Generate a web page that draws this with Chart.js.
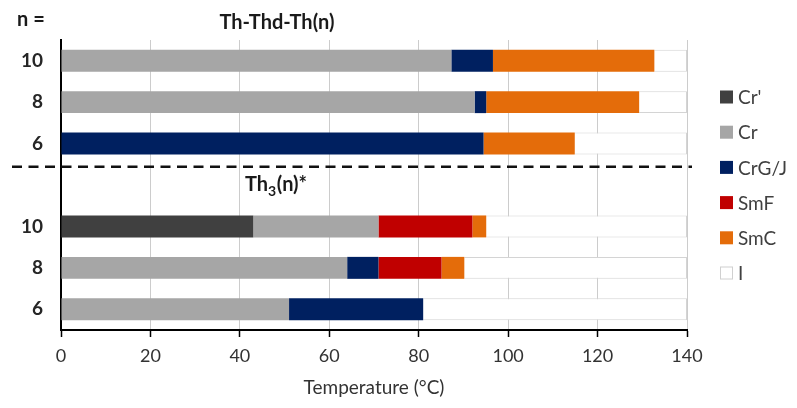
<!DOCTYPE html>
<html>
<head>
<meta charset="utf-8">
<script src="https://cdn.jsdelivr.net/npm/chart.js@4.4.1/dist/chart.umd.min.js"></script>
<style>
  html, body { margin: 0; padding: 0; background: #ffffff; }
  #wrap { width: 797px; height: 408px; }
</style>
</head>
<body>
<div id="wrap"><canvas id="c" width="797" height="408"></canvas></div>
<script>
// ---- data (segment lengths in °C, stacked from 0) ----
const categories = ['10', '8', '6', '', '10', '8', '6'];
const seriesNames = ["Cr'", 'Cr', 'CrG/J', 'SmF', 'SmC', 'I'];
const crPrime = [0, 0, 0, null, 43.0, 0, 0];
const cr      = [87.3, 92.5, 0, null, 28.0, 64.0, 51.0];
const crgj    = [9.3, 2.6, 94.5, null, 0, 7.0, 30.0];
const smf     = [0, 0, 0, null, 21.0, 14.1, 0];
const smc     = [36.1, 34.2, 20.4, null, 3.1, 5.1, 0];
const iso     = [7.3, 10.7, 25.1, null, 44.9, 49.8, 59.0];
const xTickValues = [0, 20, 40, 60, 80, 100, 120, 140];
const xTitle = 'Temperature (°C)';
const topTitle = 'Th-Thd-Th(n)';
const nLabel = 'n =';

const colors = ['#404040', '#a6a6a6', '#002060', '#c00000', '#e46c0a', '#ffffff'];
const seriesData = [crPrime, cr, crgj, smf, smc, iso];
const FONT = 'Lato, "Open Sans", sans-serif';

const datasets = seriesData.map((d, i) => ({
  label: seriesNames[i],
  data: d,
  backgroundColor: colors[i],
  borderColor: i === 5 ? '#d4d4d4' : colors[i],
  borderWidth: i === 5 ? 1 : 0,
  barPercentage: 0.53,
  categoryPercentage: 1.0
}));

const overlay = {
  id: 'overlay',
  afterDraw(chart) {
    const ctx = chart.ctx;
    const ys = chart.scales.y;
    ctx.save();
    // dashed separator between the two groups
    const yTop6 = ys.getPixelForValue(2);
    const yGap = ys.getPixelForValue(3);
    const ySep = yTop6 + (yGap - yTop6) * 0.56;
    ctx.strokeStyle = '#111';
    ctx.lineWidth = 2.5;
    ctx.setLineDash([10, 6.5]);
    ctx.beginPath();
    ctx.moveTo(12, ySep);
    ctx.lineTo(692, ySep);
    ctx.stroke();
    ctx.setLineDash([]);

    // texts
    ctx.fillStyle = '#1a1a1a';
    ctx.textBaseline = 'middle';
    ctx.font = 'bold 20px ' + FONT;
    ctx.textAlign = 'left';
    ctx.fillText(nLabel, 17, 20);
    ctx.textAlign = 'center';
    ctx.fillText(topTitle, 277, 23);

    // Th3(n)* with subscript
    ctx.textAlign = 'left';
    let x = 245;
    const yT = ys.getPixelForValue(3);
    ctx.font = 'bold 20px ' + FONT;
    ctx.fillText('Th', x, yT);
    x += ctx.measureText('Th').width;
    ctx.font = 'bold 14px ' + FONT;
    ctx.fillText('3', x, yT + 6);
    x += ctx.measureText('3').width + 0.5;
    ctx.font = 'bold 20px ' + FONT;
    ctx.fillText('(n)*', x, yT);

    // legend
    const lx = 720, lTop = 97, lStep = 35.2, box = 13;
    ctx.font = '19px ' + FONT;
    seriesNames.forEach((name, i) => {
      const cy = lTop + i * lStep;
      ctx.fillStyle = colors[i];
      ctx.fillRect(lx, cy - box / 2, box, box);
      if (i === 5) {
        ctx.strokeStyle = '#d0d0d0';
        ctx.lineWidth = 1;
        ctx.strokeRect(lx + 0.5, cy - box / 2 + 0.5, box - 1, box - 1);
      }
      ctx.fillStyle = '#404040';
      ctx.fillText(name, lx + 18, cy + 1);
    });
    ctx.restore();
  }
};

new Chart(document.getElementById('c'), {
  type: 'bar',
  data: { labels: categories, datasets: datasets },
  options: {
    indexAxis: 'y',
    responsive: false,
    animation: false,
    devicePixelRatio: 1,
    layout: { padding: { left: 0, right: 110, top: 40, bottom: 0 } },
    plugins: { legend: { display: false }, tooltip: { enabled: false } },
    scales: {
      x: {
        stacked: true,
        min: 0,
        max: 140,
        afterBuildTicks(scale) { scale.ticks = xTickValues.map(v => ({ value: v })); },
        afterFit(scale) { scale.height = 78; },
        grid: {
          color: '#cccccc',
          lineWidth: 1,
          drawTicks: true,
          tickLength: 7,
          tickColor: '#000000',
          tickWidth: 1.5
        },
        border: { display: true, color: '#000000', width: 2 },
        ticks: {
          padding: 8,
          color: '#333333',
          font: { family: FONT, size: 18 }
        },
        title: {
          display: true,
          text: xTitle,
          color: '#333333',
          font: { family: FONT, size: 19 },
          padding: { top: 0, bottom: 9 }
        }
      },
      y: {
        stacked: true,
        afterFit(scale) { scale.width = 61; },
        grid: { display: false, drawTicks: false },
        border: { display: true, color: '#000000', width: 2 },
        ticks: {
          padding: 18,
          color: '#262626',
          font: { family: FONT, size: 19, weight: 'bold' }
        }
      }
    }
  },
  plugins: [overlay]
});
</script>
</body>
</html>
